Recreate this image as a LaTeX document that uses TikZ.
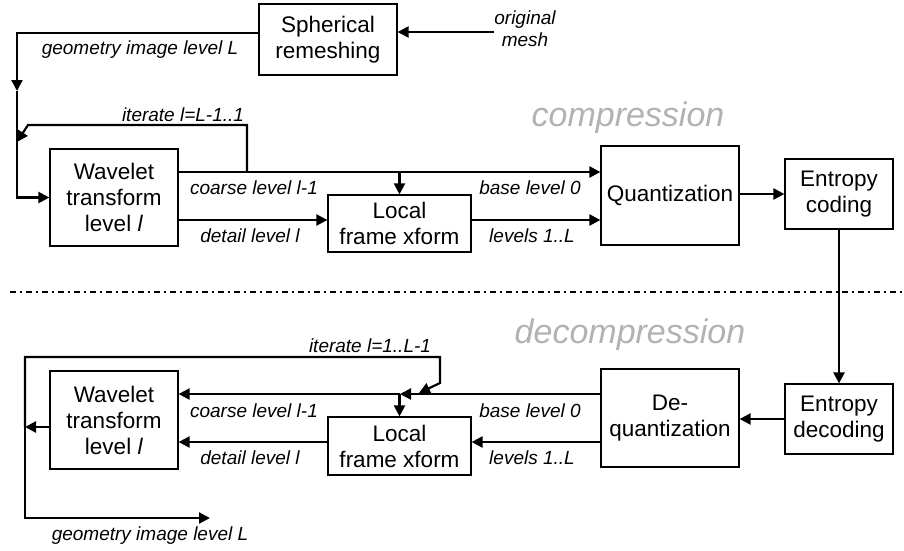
\documentclass[tikz,border=0pt]{standalone}
\usepackage{fontspec}
\setmainfont{Liberation Sans}
\usepackage{tikz}
\usetikzlibrary{arrows.meta}

\tikzset{
  blk/.style={draw,line width=1.2pt,align=center,inner sep=0pt,font=\fontsize{22.5}{26}\selectfont},
  lbl/.style={inner sep=0pt,align=center,font=\fontsize{19}{22}\selectfont\itshape},
  stage/.style={inner sep=0pt,text=gray!60,font=\fontsize{34}{40}\selectfont\itshape},
  conn/.style={line width=2.2pt},
  arr/.style={-{Triangle[length=11pt,width=11pt]}}
}

\begin{document}
\begin{tikzpicture}[x=1pt,y=-1pt]
\useasboundingbox (0,0) rectangle (904,550);

% compression
\node[blk,minimum width=138pt,minimum height=71pt](sph) at (328,39.5){Spherical\\remeshing};
\node[blk,minimum width=128pt,minimum height=97pt](wavA) at (114,197.5){Wavelet\\transform\\level \textit{l}};
\node[blk,minimum width=143pt,minimum height=57pt](locA) at (399.5,223.5){Local\\frame xform};
\node[blk,minimum width=138pt,minimum height=99pt](quant) at (670,195.5){Quantization};
\node[blk,minimum width=108pt,minimum height=70pt](encA) at (839,194){Entropy\\coding};

\node[lbl](omtxt) at (525,29){original\\mesh};
\node[lbl](geoA) at (140,50){geometry image level L};
\node[lbl](itAtxt) at (183,115){iterate l=L-1..1};
\node[lbl](crsA) at (254,188){coarse level l-1};
\node[lbl](detA) at (250,236){detail level l};
\node[lbl](basA) at (530,188){base level 0};
\node[lbl](lvsA) at (532,236){levels 1..L};
\node[stage](cmp) at (628,118){compression};

\coordinate (cT) at (0,172);
\coordinate (dT) at (0,220);
\coordinate (gA) at (17,33);
\coordinate (gAmid) at (17,91);
\coordinate (itA) at (247,172);
\coordinate (itAc) at (28,125);
\coordinate (itAend) at (17,142);

\draw[conn,arr](omtxt.west|-0,32)--(sph.east|-0,32);
\draw[conn,arr](sph.west|-gA)--(gA)--(gAmid);
\draw[conn,arr](gAmid)|-(wavA.west);
\draw[conn,arr](itA)|-(itAc)--(itAend);
\draw[conn,arr](wavA.east|-cT)--(quant.west|-cT);
\draw[conn,arr](locA.north|-cT)--(locA.north);
\draw[conn,arr](wavA.east|-dT)--(locA.west|-dT);
\draw[conn,arr](locA.east|-dT)--(quant.west|-dT);
\draw[conn,arr](encA.west-|quant.east)--(encA.west);

% separator
\coordinate (sepL) at (10,292);
\coordinate (sepR) at (904,292);
\draw[line width=2pt,dash pattern=on 6pt off 4pt on 2pt off 4pt](sepL)--(sepR);

% decompression
\node[blk,minimum width=108pt,minimum height=70pt](decA) at (839,419){Entropy\\decoding};
\node[blk,minimum width=138pt,minimum height=98pt](deq) at (670,418){De-\\quantization};
\node[blk,minimum width=143pt,minimum height=58pt](locB) at (399.5,446){Local\\frame xform};
\node[blk,minimum width=128pt,minimum height=98pt](wavB) at (114,420){Wavelet\\transform\\level \textit{l}};

\node[stage](dcmp) at (630,335){decompression};
\node[lbl](itBtxt) at (370,346){iterate l=1..L-1};
\node[lbl](crsB) at (254,411){coarse level l-1};
\node[lbl](detB) at (250,458){detail level l};
\node[lbl](basB) at (530,411){base level 0};
\node[lbl](lvsB) at (532,458){levels 1..L};
\node[lbl](geoB) at (150,536){geometry image level L};

\coordinate (cB) at (0,394);
\coordinate (dB) at (0,442);
\coordinate (mrg) at (400,394);
\coordinate (oB) at (25,427);
\coordinate (itBc) at (440,357);
\coordinate (itBd) at (440,383);
\coordinate (itBend) at (419,393);
\coordinate (geoBend) at (210,518);

\draw[conn,arr](encA.south)--(decA.north);
\draw[conn,arr](decA.west)--(decA.west-|deq.east);
\draw[conn,arr](deq.west|-cB)--(mrg);
\draw[conn,arr](mrg)--(wavB.east|-cB);
\draw[conn,arr](locB.north|-cB)--(locB.north);
\draw[conn,arr](deq.west|-dB)--(locB.east|-dB);
\draw[conn,arr](locB.west|-dB)--(wavB.east|-dB);
\draw[conn,arr](wavB.west|-oB)--(oB);
\draw[conn,arr](oB)|-(itBc)--(itBd)--(itBend);
\draw[conn,arr](oB)|-(geoBend);
\end{tikzpicture}
\end{document}
